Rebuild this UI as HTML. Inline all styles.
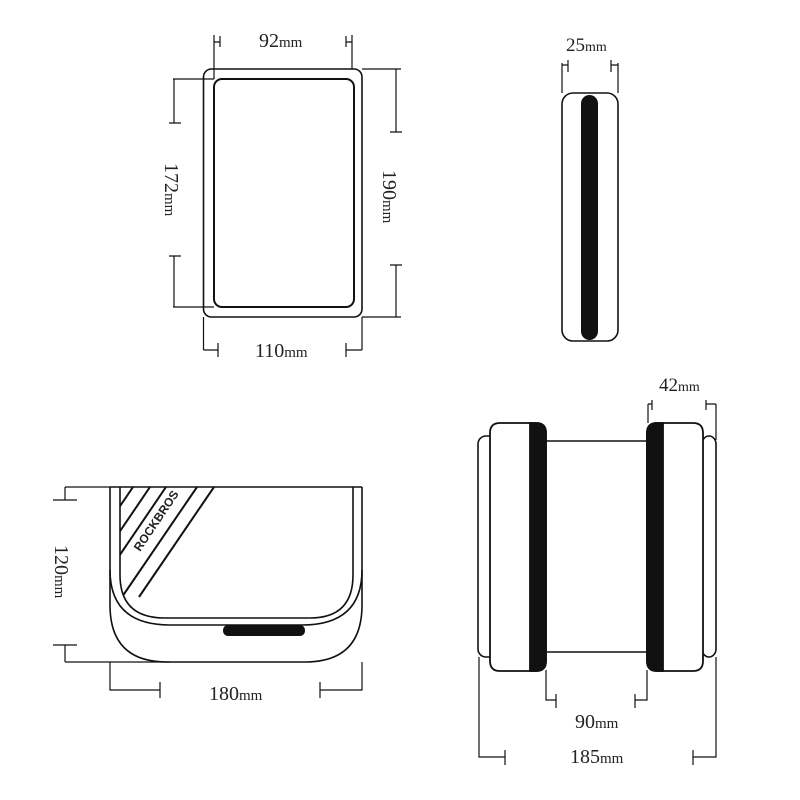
<!DOCTYPE html>
<html><head><meta charset="utf-8"><style>
html,body{margin:0;padding:0;background:#fff;}
svg{display:block;}
text{font-family:"Liberation Serif",serif;fill:#222;}
</style></head><body>
<svg width="800" height="800" viewBox="0 0 800 800" xmlns="http://www.w3.org/2000/svg">
<defs>
<clipPath id="inner"><path d="M120,487 L120,575 Q120,618 165,618 L310,618 Q353,618 353,575 L353,487 Z"/></clipPath>
</defs>
<g fill="none" stroke="#111" stroke-width="1.6">
<!-- top-left front -->
<rect x="203.5" y="69" width="158.5" height="248" rx="8"/>
<rect x="214" y="79" width="140" height="228" rx="8" stroke-width="2"/>
<!-- 92mm -->
<path d="M214,35 V79 M214,42 H220 M220,36 V47 M352,35 V69 M352,42 H346 M346,36 V47" stroke-width="1.2"/>
<!-- 172mm -->
<path d="M173,79 H214 M174,79 V123 M169,123 H181 M173,307 H214 M174,307 V256 M169,256 H181" stroke-width="1.2"/>
<!-- 190mm -->
<path d="M362,69 H401 M396,69 V132 M390,132 H402 M362,317 H401 M396,317 V265 M390,265 H402" stroke-width="1.2"/>
<!-- 110mm -->
<path d="M203.5,317 V350 M203.5,350 H218 M218,343 V357 M362,317 V350 M362,350 H346 M346,343 V357" stroke-width="1.2"/>

<!-- side view -->
<rect x="562" y="93" width="56" height="248" rx="11"/>
<path d="M562,63 V93 M562,65 H568 M568,60 V72 M618,63 V93 M618,65 H611 M611,60 V72" stroke-width="1.2"/>

<!-- bottom-left -->
<path d="M110,487 H362"/>
<path d="M110,487 V605 Q110,662 167,662 L305,662 Q362,662 362,605 V487"/>
<path d="M110,570 Q110,625 170,625 L302,625 Q362,625 362,570"/>
<path d="M120,487 L120,575 Q120,618 165,618 L310,618 Q353,618 353,575 L353,487"/>
<g clip-path="url(#inner)" stroke-width="2">
<line x1="133" y1="487" x2="63" y2="590"/>
<line x1="150" y1="487" x2="80" y2="590"/>
<line x1="166" y1="487" x2="96" y2="590"/>
<line x1="197" y1="487" x2="122" y2="597"/>
<line x1="214" y1="487" x2="139" y2="597"/>
</g>
<path d="M65,487 H110 M65,487 V500 M53,500 H77 M65,645 V662 M53,645 H77 M65,662 H170" stroke-width="1.2"/>
<path d="M110,662 V690 H160 M160,682 V698 M362,662 V690 H320 M320,682 V698" stroke-width="1.2"/>

<!-- bottom-right -->
<rect x="478" y="436" width="20" height="221" rx="8"/>
<rect x="702" y="436" width="14" height="221" rx="8"/>
<path d="M546,441 H647 M546,652 H647"/>
<path d="M652,400 V410 M652,404 H648 M648,404 V423 M706,400 V410 M706,404 H716 M716,404 V440" stroke-width="1.2"/>
<path d="M546,670 V700 H556 M556,694 V708 M647,670 V700 H635 M635,694 V708" stroke-width="1.2"/>
<path d="M479,657 V757 H505 M505,750 V765 M716,657 V757 H693 M693,750 V765" stroke-width="1.2"/>
</g>
<!-- black elements -->
<rect x="581" y="95" width="17" height="245" rx="8.5" fill="#111"/>
<rect x="223" y="625" width="82" height="11" rx="5" fill="#111"/>
<g stroke="#111" stroke-width="1.8">
<path d="M500,423 H536 Q546,423 546,433 V661 Q546,671 536,671 H500 Q490,671 490,661 V433 Q490,423 500,423 Z" fill="#fff"/>
<path d="M530,423 H536 Q546,423 546,433 V661 Q546,671 536,671 H530 Z" fill="#111"/>
<path d="M657,423 H693 Q703,423 703,433 V661 Q703,671 693,671 H657 Q647,671 647,661 V433 Q647,423 657,423 Z" fill="#fff"/>
<path d="M663,423 H657 Q647,423 647,433 V661 Q647,671 657,671 H663 Z" fill="#111"/>
</g>
<text x="140" y="552" font-family="Liberation Sans,sans-serif" font-weight="bold" font-size="12" transform="rotate(-56 140 552)" style="font-family:'Liberation Sans',sans-serif">ROCKBROS</text>
<!-- labels -->
<text x="259" y="47" font-size="20">92<tspan font-size="15">mm</tspan></text>
<text x="255" y="357" font-size="20">110<tspan font-size="15">mm</tspan></text>
<text x="566" y="51" font-size="19">25<tspan font-size="14">mm</tspan></text>
<text x="659" y="391" font-size="19">42<tspan font-size="14">mm</tspan></text>
<text x="209" y="700" font-size="20">180<tspan font-size="15">mm</tspan></text>
<text x="575" y="728" font-size="20">90<tspan font-size="15">mm</tspan></text>
<text x="570" y="763" font-size="20">185<tspan font-size="15">mm</tspan></text>
<text font-size="20" transform="translate(165,163) rotate(90)">172<tspan font-size="15">mm</tspan></text>
<text font-size="20" transform="translate(383,170) rotate(90)">190<tspan font-size="15">mm</tspan></text>
<text font-size="20" transform="translate(55,545) rotate(90)">120<tspan font-size="15">mm</tspan></text>
</svg>
</body></html>
